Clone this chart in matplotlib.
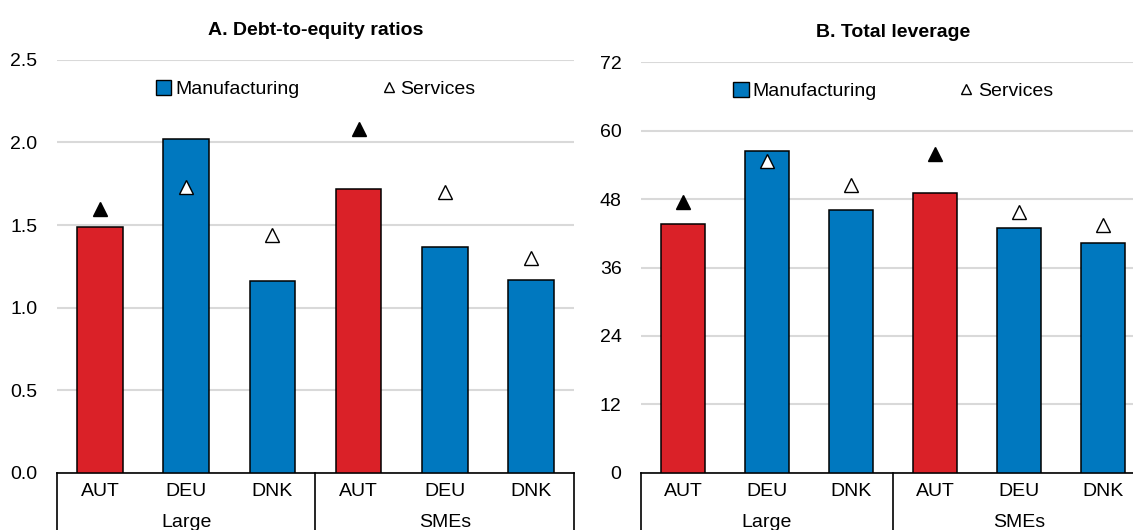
import matplotlib
matplotlib.use("Agg")
import matplotlib.pyplot as plt
from matplotlib.patches import Patch
from matplotlib.lines import Line2D
import numpy as np

plt.rcParams['font.family'] = ['Liberation Sans Narrow', 'Liberation Sans', 'DejaVu Sans']

# data
countries = ['AUT', 'DEU', 'DNK', 'AUT', 'DEU', 'DNK']
groups = ['Large', 'SMEs']
de_manuf = [1.49, 2.02, 1.16, 1.72, 1.37, 1.165]
de_serv = [1.60, 1.73, 1.44, 2.08, 1.70, 1.30]
lev_manuf = [43.7, 56.5, 46.1, 49.1, 42.9, 40.3]
lev_serv = [47.5, 54.6, 50.4, 55.9, 45.8, 43.4]

BLUE = '#0078BF'
RED = '#DA2128'
GRID = '#D9D9D9'
FS = 14


def draw_panel(ax, manuf, serv, ymax, ticks, fmt, title):
    x = np.arange(len(countries))
    cols = [RED if c == 'AUT' else BLUE for c in countries]
    ax.bar(x, manuf, width=0.53, color=cols, edgecolor='black', linewidth=1.1, zorder=3)
    faces = ['black' if c == 'AUT' else 'white' for c in countries]
    for xi, v, f in zip(x, serv, faces):
        ax.plot(xi, v, marker='^', markersize=10, markerfacecolor=f,
                markeredgecolor='black', markeredgewidth=1, linestyle='none', zorder=4)

    ax.set_xlim(-0.5, len(countries) - 0.5)
    ax.set_ylim(0, ymax)
    ax.set_yticks(ticks)
    ax.set_yticklabels([fmt.format(t) for t in ticks], fontsize=FS)
    ax.tick_params(axis='y', length=0, pad=14)
    ax.set_xticks([])
    ax.grid(axis='y', color=GRID, linewidth=1.5, zorder=0)
    ax.set_axisbelow(True)
    for s in ['top', 'right', 'left']:
        ax.spines[s].set_visible(False)
    ax.spines['bottom'].set_linewidth(1.2)
    ax.set_title(title, fontsize=FS, fontweight='bold', pad=18)

    # multi-level category axis
    tr = ax.get_xaxis_transform()
    for xi, c in zip(x, countries):
        ax.annotate(c, xy=(xi, 0), xycoords=tr, xytext=(0, -13.5),
                    textcoords='offset points', ha='center', va='center', fontsize=FS)
    for i, g in enumerate(groups):
        ax.annotate(g, xy=(3 * i + 1, 0), xycoords=tr, xytext=(0, -36),
                    textcoords='offset points', ha='center', va='center', fontsize=FS)
    for xb in [-0.5, 2.5, 5.5]:
        ax.plot([xb, xb], [0, -0.3], transform=tr, color='black', linewidth=1.2,
                clip_on=False)

    handles = [Patch(facecolor=BLUE, edgecolor='black', linewidth=1),
               Line2D([], [], marker='^', markersize=7, markerfacecolor='white',
                      markeredgecolor='black', linestyle='none')]
    ax.legend(handles, ['Manufacturing', 'Services'], ncol=2, frameon=False,
              loc='center', bbox_to_anchor=(0.5, 0.93), fontsize=FS,
              handlelength=0.8, handleheight=0.8, handletextpad=0.2,
              columnspacing=4.2)


fig = plt.figure(figsize=(11.33, 5.30), dpi=100)
ax1 = fig.add_axes([0.0503, 0.108, 0.4563, 0.779])
ax2 = fig.add_axes([0.5658, 0.108, 0.4448, 0.7745])

draw_panel(ax1, de_manuf, de_serv, 2.5, [0, 0.5, 1.0, 1.5, 2.0, 2.5], '{:.1f}',
           'A. Debt-to-equity ratios')
draw_panel(ax2, lev_manuf, lev_serv, 72, [0, 12, 24, 36, 48, 60, 72], '{:.0f}',
           'B. Total leverage')

fig.savefig('out.png', dpi=100)
